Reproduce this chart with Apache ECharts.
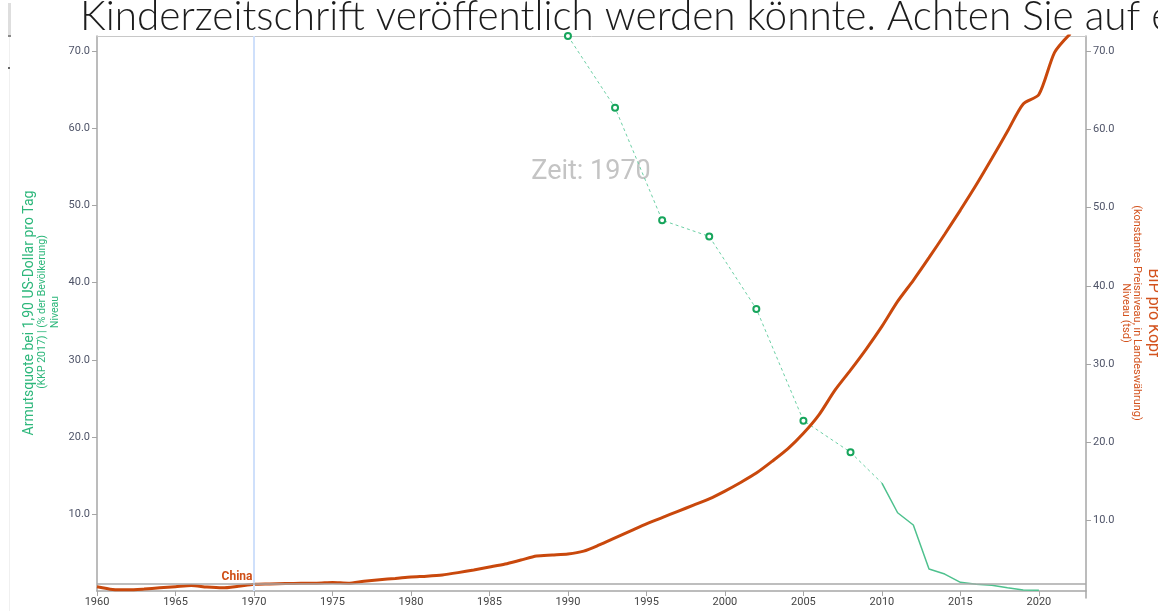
<!DOCTYPE html>
<html>
<head>
<meta charset="utf-8">
<style>
html,body{margin:0;padding:0;background:#fff;overflow:hidden;}
#chart{width:1158px;height:611px;}
</style>
<script src="https://cdn.jsdelivr.net/npm/echarts@6/dist/echarts.min.js"></script>
</head>
<body>
<div id="chart"></div>
<script>
// GDP per capita, China (right axis, thousands), years 1960..2022
const gdpYears = [1960,1961,1962,1963,1964,1965,1966,1967,1968,1969,1970,1971,1972,1973,1974,1975,1976,1977,1978,1979,1980,1981,1982,1983,1984,1985,1986,1987,1988,1989,1990,1991,1992,1993,1994,1995,1996,1997,1998,1999,2000,2001,2002,2003,2004,2005,2006,2007,2008,2009,2010,2011,2012,2013,2014,2015,2016,2017,2018,2019,2020,2021,2022];
const gdpValues = [1.45,1.1,1.05,1.15,1.3,1.45,1.6,1.4,1.3,1.5,1.75,1.8,1.85,1.9,1.9,2.0,1.9,2.15,2.35,2.5,2.7,2.8,2.95,3.25,3.6,3.97,4.35,4.86,5.37,5.5,5.63,6.0,6.8,7.7,8.6,9.5,10.3,11.1,11.9,12.7,13.7,14.8,16.0,17.5,19.1,21.1,23.5,26.6,29.2,31.9,34.8,38.0,40.7,43.6,46.6,49.7,52.9,56.3,59.8,63.3,64.5,69.9,72.3];
// Poverty rate at $1.90/day (left axis, %), sparse survey years (dashed, markers)
const povSparseYears = [1990,1993,1996,1999,2002,2005,2008,2010];
const povSparseValues = [72.0,62.7,48.1,46.0,36.6,22.1,18.0,14.0];
// Poverty rate, annual years (solid)
const povYears = [2010,2011,2012,2013,2014,2015,2016,2017,2018,2019,2020];
const povValues = [14.0,10.15,8.56,2.85,2.2,1.13,0.87,0.74,0.41,0.13,0.1];
// Axis ticks
const yTicksInterval = 10;
const xTicksInterval = 5;
const countryLabel = 'China';
const timeLabel = 'Zeit: 1970';
const markYear = 1970;
const titleText = 'Kinderzeitschrift veröffentlich werden könnte. Achten Sie auf e';
const leftTitle = ['Armutsquote bei 1,90 US-Dollar pro Tag', '(KKP 2017) | (% der Bevölkerung)', 'Niveau'];
const rightTitle = ['BIP pro Kopf', '(konstantes Preisniveau, in Landeswährung)', 'Niveau (tsd)'];

const chart = echarts.init(document.getElementById('chart'), null, {renderer:'canvas'});

const gdpData = gdpYears.map((y,i) => [y, gdpValues[i]]);
const sparseData = povSparseYears.map((y,i) => {
  const item = {value:[y, povSparseValues[i]]};
  if (i === povSparseYears.length - 1) item.symbol = 'none';
  return item;
});
const solidData = povYears.map((y,i) => [y, povValues[i]]);
const labelPoint = [markYear, gdpValues[gdpYears.indexOf(markYear)]];

const axisLabelStyle = {color:'#4f5468', fontSize:11, fontFamily:'Roboto'};
const axisLineStyle = {color:'#a6a6a6', width:1.5};

const rotTxt = (x, y, rot, text, font, fill) => ({
  type:'text', x:x, y:y, rotation:rot, silent:true,
  style:{text:text, font:font, fill:fill, align:'center', verticalAlign:'middle', textAlign:'center', textVerticalAlign:'middle'}
});

const option = {
  animation:false,
  backgroundColor:'#fff',
  grid:[
    {left:97, right:72, top:36, bottom:20, containLabel:false},
    {left:97, right:72, top:36, bottom:13, containLabel:false}
  ],
  xAxis:[
    {type:'value', gridIndex:0, min:1960, max:2023, interval:xTicksInterval, position:'bottom',
     axisLine:{show:true, lineStyle:axisLineStyle}, axisTick:{show:true, length:5, lineStyle:{color:'#a6a6a6'}},
     axisLabel:{color:'#444', fontSize:11, fontFamily:'Roboto', margin:6, showMaxLabel:false, formatter:v=>String(v)},
     splitLine:{show:false}},
    {type:'value', gridIndex:0, min:1960, max:2023, position:'top',
     axisLine:{show:true, lineStyle:{color:'#c8c8c8', width:1}}, axisTick:{show:false}, axisLabel:{show:false}, splitLine:{show:false}},
    {type:'value', gridIndex:1, min:1960, max:2023, show:false}
  ],
  yAxis:[
    {type:'value', gridIndex:0, min:0, max:72, interval:yTicksInterval, position:'left',
     axisLine:{show:true, lineStyle:axisLineStyle}, axisTick:{show:true, length:5, lineStyle:{color:'#a6a6a6'}},
     axisLabel:Object.assign({margin:7, showMinLabel:false, showMaxLabel:false, formatter:v=>v.toFixed(1)}, axisLabelStyle),
     splitLine:{show:false}},
    {type:'value', gridIndex:1, min:0, max:72, interval:yTicksInterval, position:'right',
     axisLine:{show:true, lineStyle:axisLineStyle}, axisTick:{show:true, length:5, lineStyle:{color:'#a6a6a6'}},
     axisLabel:Object.assign({margin:7, showMinLabel:false, showMaxLabel:false, formatter:v=>v.toFixed(1)}, axisLabelStyle),
     splitLine:{show:false}}
  ],
  series:[
    {type:'line', name:'markers', xAxisIndex:0, yAxisIndex:0, data:[], silent:true,
     markLine:{silent:true, symbol:'none', label:{show:false},
       data:[
         {xAxis:markYear, lineStyle:{color:'#cfe0fb', width:2, type:'solid'}},
         {yAxis:0.9, lineStyle:{color:'#a9a9a9', width:1.5, type:'solid'}}
       ]}},
    {type:'line', name:'Armutsquote (Erhebungen)', xAxisIndex:0, yAxisIndex:0, data:sparseData,
     symbol:'circle', symbolSize:6, showAllSymbol:true,
     itemStyle:{color:'#ffffff', borderColor:'#17a55c', borderWidth:2},
     lineStyle:{color:'#6ccfa5', width:1, type:[3,3]}, z:3},
    {type:'line', name:'Armutsquote', xAxisIndex:0, yAxisIndex:0, data:solidData,
     symbol:'none', lineStyle:{color:'#4ec18e', width:1.5}, z:3},
    {type:'line', name:'BIP pro Kopf', xAxisIndex:2, yAxisIndex:1, data:gdpData,
     symbol:'none', smooth:0.25, lineStyle:{color:'#c9480c', width:3}, z:4,
     markPoint:{silent:true, symbol:'circle', symbolSize:1, itemStyle:{color:'rgba(0,0,0,0)'},
       label:{show:true, formatter:countryLabel, position:'left', distance:1, offset:[0,-7],
         color:'#cf4f17', fontWeight:'bold', fontSize:12, fontFamily:'Roboto'},
       data:[{coord:labelPoint}]}}
  ],
  graphic:[
    {type:'rect', shape:{x:9, y:36, width:1, height:575}, style:{fill:'#f0f0f0'}, silent:true},
    {type:'rect', shape:{x:8, y:3, width:3, height:33}, style:{fill:'#dedede'}, silent:true},
    {type:'rect', shape:{x:8, y:35, width:3, height:2}, style:{fill:'#8a8a8a'}, silent:true},
    {type:'rect', shape:{x:8, y:67, width:2, height:2}, style:{fill:'#666'}, silent:true},
    {type:'text', x:80, y:17, silent:true,
     style:{text:titleText, font:'300 40.5px Lato', fill:'#1c1c1c', align:'left', verticalAlign:'middle', textAlign:'left', textVerticalAlign:'middle'}},
    {type:'text', x:591, y:172, silent:true,
     style:{text:timeLabel, font:'27px Roboto', fill:'#c4c4c4', align:'center', verticalAlign:'middle', textAlign:'center', textVerticalAlign:'middle'}},
    rotTxt(29, 313, Math.PI/2, leftTitle[0], '14px Roboto', '#2db77b'),
    rotTxt(42, 312, Math.PI/2, leftTitle[1], '10.5px Roboto', '#2db77b'),
    rotTxt(55, 312, Math.PI/2, leftTitle[2], '10.5px Roboto', '#2db77b'),
    rotTxt(1153, 313, -Math.PI/2, rightTitle[0], '16px Roboto', '#d3531e'),
    rotTxt(1137, 313, -Math.PI/2, rightTitle[1], '11px Roboto', '#d3531e'),
    rotTxt(1126, 313, -Math.PI/2, rightTitle[2], '11px Roboto', '#d3531e')
  ]
};
chart.setOption(option);
</script>
</body>
</html>
